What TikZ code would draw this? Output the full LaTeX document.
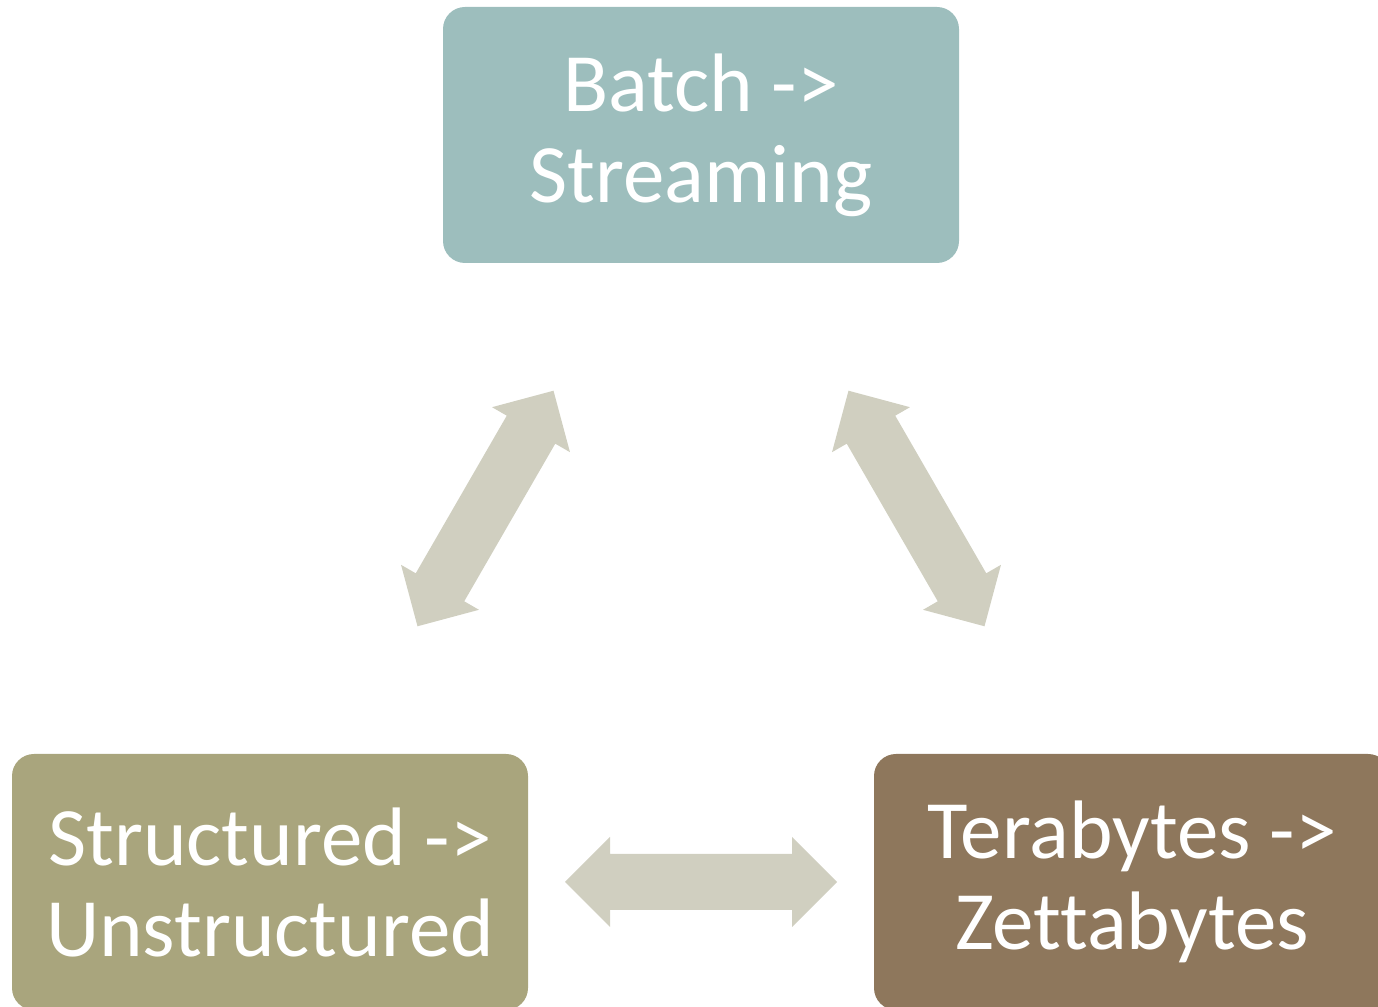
\documentclass[tikz,border=0pt]{standalone}
\usepackage{fontspec}
\setmainfont{Carlito}[Ligatures={NoCommon}]
\usetikzlibrary{calc}
\definecolor{tealbox}{HTML}{9DBEBD}
\definecolor{olivebox}{HTML}{A9A57D}
\definecolor{brownbox}{HTML}{8E775C}
\definecolor{arrowgray}{HTML}{D0CFC0}
\tikzset{
  box/.style={rectangle, rounded corners=11pt, minimum width=258pt, minimum height=128pt,
    text=white, align=center, inner sep=0pt, font=\fontsize{41.5pt}{45.5pt}\selectfont},
  twoway/.style={fill=arrowgray}
}
% double block arrow round a centre coordinate, at an angle
\newcommand\twowayarrow[2]{%
  \fill[twoway, shift={(#1)}, rotate=#2] (-136,0) -- (-91,45) -- (-91,28) -- (91,28) -- (91,45)
    -- (136,0) -- (91,-45) -- (91,-28) -- (-91,-28) -- (-91,-45) -- cycle;}
\begin{document}
\begin{tikzpicture}[x=0.5pt,y=0.5pt]
			\useasboundingbox (0,0) rectangle (1378,1007);
			\clip (0,0) rectangle (1378,1007);
			\node[box, fill=tealbox] (batch) at (701,872) {Batch ->\\Streaming};
			\node[box, fill=olivebox] (struct) at (270,125) {Structured ->\\Unstructured};
			\node[box, fill=brownbox] (tera) at (1132,125) {Terabytes ->\\Zettabytes};
			\coordinate (bs) at ($(batch)!0.5!(struct)$);
			\coordinate (bt) at ($(batch)!0.5!(tera)$);
			\coordinate (st) at ($(struct)!0.5!(tera)$);
			\twowayarrow{bs}{60}
			\twowayarrow{bt}{120}
			\twowayarrow{st}{0}
		\end{tikzpicture}
\end{document}
